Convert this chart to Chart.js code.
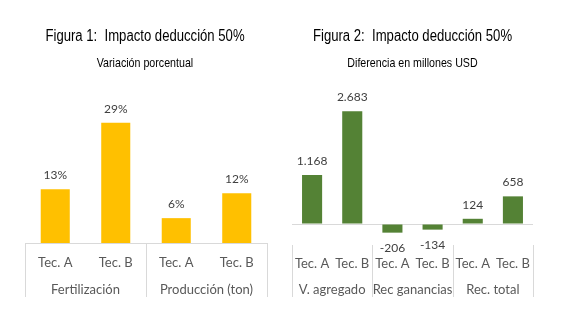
<!DOCTYPE html>
<html>
<head>
<meta charset="utf-8">
<script src="https://cdn.jsdelivr.net/npm/chart.js@4"></script>
<style>
  body { margin: 0; background: #fff; }
  .box { position: absolute; top: 0; height: 327px; }
  #b1 { left: 0; width: 290px; }
  #b2 { left: 289px; width: 247px; }
</style>
</head>
<body>
<div class="box" id="b1"><canvas id="c1"></canvas></div>
<div class="box" id="b2"><canvas id="c2"></canvas></div>
<script>
// figura 1
const cats1 = ['Tec. A', 'Tec. B', 'Tec. A', 'Tec. B'];
const groups1 = ['Fertilización', 'Producción (ton)'];
const vals1 = [13, 29, 6, 12];

// figura 2
const cats2 = ['Tec. A', 'Tec. B', 'Tec. A', 'Tec. B', 'Tec. A', 'Tec. B'];
const groups2 = ['V. agregado', 'Rec ganancias', 'Rec. total'];
const vals2 = [1168, 2683, -206, -134, 124, 658];

const titleFont = "'Liberation Sans', Arial, sans-serif";
const bodyFont = 'Lato, sans-serif';
const lineCol = '#d9d9d9';

function fmtMiles(v) {
    return String(v).replace(/\B(?=(\d{3})+(?!\d))/g, '.');
}

// titulo y subtitulo con letra angosta
const narrowTitles = {
    id: 'narrowTitles',
    afterDraw(chart, args, opts) {
        const ctx = chart.ctx;
        ctx.save();
        ctx.fillStyle = '#000';
        ctx.textAlign = 'center';
        ctx.textBaseline = 'middle';
        ctx.translate(chart.width / 2, 0);
        ctx.scale(0.82, 1);
        ctx.font = '16px ' + titleFont;
        ctx.fillText(opts.title, 0, 37);
        ctx.font = '13px ' + titleFont;
        ctx.fillText(opts.subtitle, 0, 63);
        ctx.restore();
    }
};

// etiquetas encima / debajo de cada barra
const valueLabels = {
    id: 'valueLabels',
    afterDatasetsDraw(chart, args, opts) {
        const ctx = chart.ctx;
        const meta = chart.getDatasetMeta(0);
        const data = chart.data.datasets[0].data;
        ctx.save();
        ctx.font = '12px ' + bodyFont;
        ctx.fillStyle = '#404040';
        ctx.textAlign = 'center';
        ctx.textBaseline = 'middle';
        meta.data.forEach((bar, i) => {
            const v = data[i];
            const y = v >= 0 ? bar.y - 14 : bar.y + 15;
            ctx.fillText(opts.format(v), bar.x, y);
        });
        ctx.restore();
    }
};

// lineas separadoras entre grupos
const groupLines = {
    id: 'groupLines',
    afterDraw(chart) {
        const x = chart.scales.x;
        const x2 = chart.scales.x2;
        const n = x2.getLabels().length;
        const per = x.getLabels().length / n;
        const ctx = chart.ctx;
        ctx.save();
        ctx.strokeStyle = lineCol;
        ctx.lineWidth = 1;
        for (let g = 0; g <= n; g++) {
            let px;
            if (g === 0) px = x.left;
            else if (g === n) px = x.right;
            else px = (x.getPixelForValue(g * per - 1) + x.getPixelForValue(g * per)) / 2;
            px = Math.round(px) + 0.5;
            ctx.beginPath();
            ctx.moveTo(px, x.top);
            ctx.lineTo(px, x2.bottom);
            ctx.stroke();
        }
        ctx.restore();
    }
};

function makeChart(id, cats, groups, vals, color, yMin, yMax, pad, barPct, fmt, tickPad, showBase, titles) {
    return new Chart(document.getElementById(id), {
        type: 'bar',
        data: {
            labels: cats,
            datasets: [{
                data: vals,
                backgroundColor: color,
                categoryPercentage: 1,
                barPercentage: barPct
            }]
        },
        options: {
            responsive: true,
            maintainAspectRatio: false,
            animation: false,
            layout: { padding: pad },
            plugins: {
                legend: { display: false },
                tooltip: { enabled: false },
                valueLabels: { format: fmt },
                narrowTitles: titles
            },
            scales: {
                y: {
                    display: showBase ? false : true,
                    min: yMin,
                    max: yMax,
                    ticks: { display: false },
                    border: { display: false },
                    grid: {
                        drawTicks: false,
                        color: c => c.tick && c.tick.value === 0 ? lineCol : 'transparent'
                    },
                    afterFit(s) { s.width = 0; }
                },
                x: {
                    grid: { display: false },
                    border: { display: showBase, color: lineCol },
                    ticks: { color: '#595959', font: { family: bodyFont, size: 13 }, padding: tickPad, maxRotation: 0, autoSkip: false }
                },
                x2: {
                    type: 'category',
                    labels: groups,
                    position: 'bottom',
                    grid: { display: false },
                    border: { display: false },
                    ticks: { color: '#595959', font: { family: bodyFont, size: 13 }, padding: -0.8, maxRotation: 0, autoSkip: false }
                }
            }
        },
        plugins: [valueLabels, groupLines, narrowTitles]
    });
}

makeChart('c1', cats1, groups1, vals1, '#FFC000', 0, 35,
    { top: 98, left: 25, right: 23, bottom: 30 }, 0.48, v => v + '%', 4.2, true,
    { title: 'Figura 1:  Impacto deducción 50%', subtitle: 'Variación porcentual' });
makeChart('c2', cats2, groups2, vals2, '#548235', -500, 3000,
    { top: 98, left: 3, right: 3, bottom: 30 }, 0.5, fmtMiles, 3.2, false,
    { title: 'Figura 2:  Impacto deducción 50%', subtitle: 'Diferencia en millones USD' });
</script>
</body>
</html>
